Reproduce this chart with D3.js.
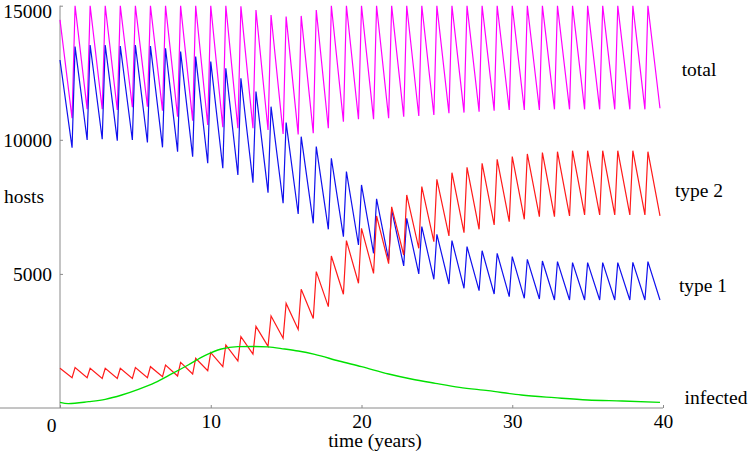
<!DOCTYPE html>
<html>
<head>
<meta charset="utf-8">
<script src="https://cdn.jsdelivr.net/npm/d3@7"></script>
<style>
  html, body { margin: 0; padding: 0; background: #fff; }
  svg text { font-family: "Liberation Serif", "Times New Roman", serif; fill: #000; }
</style>
</head>
<body>
<svg id="chart" width="749" height="455"></svg>
<script>
// ---- data ----
// each sawtooth series: value at t=0, troughs at t=k+0.8 (k=0..39), peaks at t=k (k=1..39)
const totalStart = 14470;
const totalTroughs = [10802,11138,11138,11112,11212,11236,11087,10864,10715,10553,
  10467,10429,10429,10366,10220,10200,10243,10429,10677,10765,
  10765,10802,10864,10889,10926,10989,11014,11050,11087,11112,
  11112,11112,11137,11137,11137,11137,11137,11137,11137,11175];
const totalPeaks = [15000,15000,15000,15000,15000,15000,15000,15000,15000,15000,
  15000,14975,14841,14655,14593,14620,14841,15000,15000,15000,
  15000,15000,15000,15000,15000,15000,15000,15000,15000,15000,
  15000,15000,15000,15000,15000,15000,15000,15000,15000];

const type1Start = 12977;
const type1Troughs = [9707,9994,10019,9969,9994,9900,9720,9558,9372,9124,
  8938,8689,8403,8030,7633,7234,6886,6663,6389,6078,
  5767,5519,5295,4997,4798,4624,4463,4375,4251,4151,
  4090,4065,4027,4027,4027,4027,4027,4027,4027,4027];
const type1Peaks = [13474,13536,13536,13499,13536,13499,13412,13288,13101,12915,
  12667,12294,11796,11236,10640,10117,9745,9310,8813,8316,
  7800,7384,7074,6762,6477,6240,6016,5866,5767,5643,
  5544,5482,5457,5420,5420,5420,5420,5430,5457];

const type2Start = 1479;
const type2Troughs = [1131,1131,1106,1106,1106,1131,1168,1193,1268,1392,
  1541,1753,2014,2300,2600,2930,3340,3780,4240,4650,
  5020,5380,5705,5954,6202,6414,6538,6663,6824,6950,
  7035,7135,7135,7160,7197,7197,7197,7197,7197,7160];
const type2Peaks = [1504,1479,1479,1479,1504,1541,1603,1703,1852,2063,
  2349,2660,3045,3430,3900,4425,5084,5668,6240,6700,
  7160,7500,7943,8254,8527,8775,8975,9124,9273,9372,
  9472,9521,9558,9595,9595,9595,9595,9595,9558];

const infectedTimes = [0,0.55,1.9,3,4.1,5.2,6.3,7.4,8.5,9.6,10.7,11.8,12.9,13.8,14.9,15.8,16.9,18.5,20,21.8,23.3,24.9,26.5,28.4,30.6,32.8,35,37.3,39.8];
const infectedValues = [211,162,236,323,485,696,945,1268,1603,1952,2200,2287,2295,2280,2200,2125,2001,1753,1541,1268,1081,920,771,646,485,385,298,261,211];

const xTicks = [0,10,20,30,40];
const yTicks = [5000,10000,15000];
const seriesLabels = ["total","type 2","type 1","infected"];

// ---- layout ----
const svg = d3.select("#chart");
const x = d3.scaleLinear().domain([0,40]).range([60,663]);
const y = d3.scaleLinear().domain([0,15000]).range([408,5.7]);
const FS = "19.5px";

const troughTimes = d3.range(40).map(k => k + 0.8);
const peakTimes = d3.range(1, 40);

function saw(start, troughs, peaks) {
  const pts = [[0, start]];
  troughTimes.forEach((t, k) => {
    pts.push([t, troughs[k]]);
    if (k < peaks.length) pts.push([peakTimes[k], peaks[k]]);
  });
  return pts;
}

// axes
const gx = svg.append("g").attr("transform", "translate(0,408)")
  .call(d3.axisBottom(x).tickValues(xTicks).tickSizeInner(-3).tickSizeOuter(0).tickPadding(6).tickFormat(d3.format("d")));
const gy = svg.append("g").attr("transform", "translate(60,0)")
  .call(d3.axisLeft(y).tickValues(yTicks).tickSizeInner(-3).tickSizeOuter(0).tickPadding(8).tickFormat(d3.format("d")));
[gx, gy].forEach(g => {
  g.select(".domain").attr("stroke", "#8a8a8a").attr("stroke-width", 1);
  g.selectAll(".tick line").attr("stroke", "#8a8a8a");
  g.selectAll(".tick text").attr("font-family", "Liberation Serif").attr("font-size", FS).attr("fill", "#000");
});
gy.select(".domain").attr("d", `M0,${y(15000)}V408`);
gx.select(".domain").attr("d", `M0,0H${x(40)}`);
gx.selectAll(".tick text").filter(d => d === 0).attr("dx", -9).attr("dy", "0.9em");
gy.selectAll(".tick text").filter(d => d === 15000).attr("dy", "0.62em");

const line = d3.line().x(d => x(d[0])).y(d => y(d[1]));
const plot = svg.append("g").attr("fill", "none").attr("stroke-linejoin", "miter");

plot.append("path").datum(saw(totalStart, totalTroughs, totalPeaks))
  .attr("d", line).attr("stroke", "#ff00ff").attr("stroke-width", 1.2);
plot.append("path").datum(saw(type1Start, type1Troughs, type1Peaks))
  .attr("d", line).attr("stroke", "#1010ee").attr("stroke-width", 1.2);
plot.append("path").datum(saw(type2Start, type2Troughs, type2Peaks))
  .attr("d", line).attr("stroke", "#ff1a1a").attr("stroke-width", 1.2);
plot.append("path").datum(infectedTimes.map((t, i) => [t, infectedValues[i]]))
  .attr("d", d3.line().x(d => x(d[0])).y(d => y(d[1])).curve(d3.curveMonotoneX))
  .attr("stroke", "#00e000").attr("stroke-width", 1.4);

// text labels
const labelPos = [[699, 75.5], [699, 197], [703, 292], [716, 404]];
seriesLabels.forEach((s, i) => {
  svg.append("text").attr("x", labelPos[i][0]).attr("y", labelPos[i][1])
    .attr("text-anchor", "middle").attr("font-size", FS).text(s);
});
svg.append("text").attr("x", 24).attr("y", 203).attr("text-anchor", "middle").attr("font-size", FS).text("hosts");
svg.append("text").attr("x", 375).attr("y", 447).attr("text-anchor", "middle").attr("font-size", FS).text("time (years)");
</script>
</body>
</html>
